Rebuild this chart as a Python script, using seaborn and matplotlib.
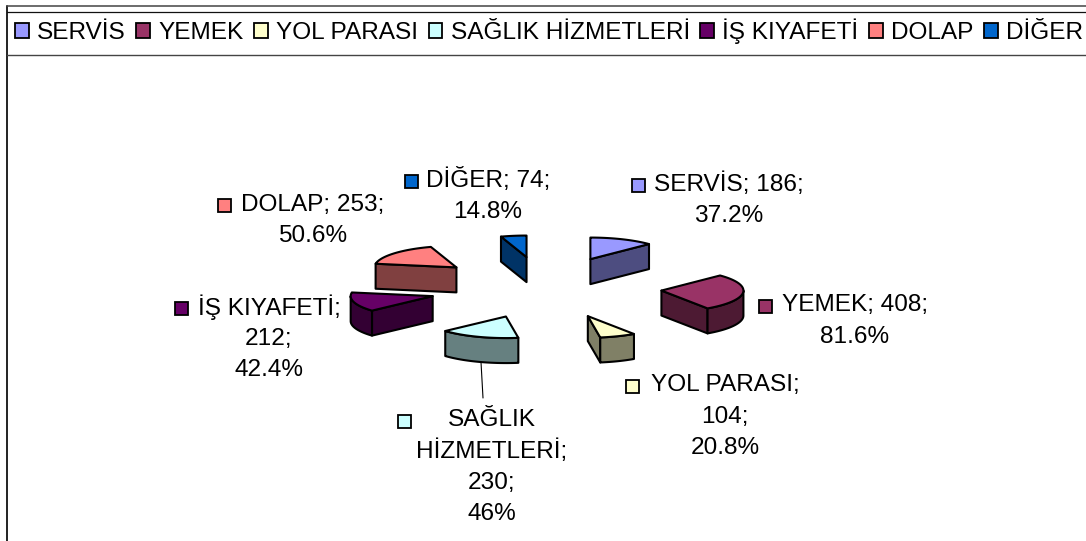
import numpy as np
import matplotlib
matplotlib.use("Agg")
import matplotlib.pyplot as plt
from matplotlib.patches import Polygon, Rectangle, Patch
import seaborn as sns

categories = ["SERVİS", "YEMEK", "YOL PARASI", "SAĞLIK HİZMETLERİ", "İŞ KIYAFETİ", "DOLAP", "DİĞER"]
values = [186, 408, 104, 230, 212, 253, 74]
percents = ["37.2%", "81.6%", "20.8%", "46%", "42.4%", "50.6%", "14.8%"]
hex_colors = ["#9999FF", "#993366", "#FFFFCC", "#CCFFFF", "#660066", "#FF8080", "#0066CC"]

# label line layout
label_lines = [
    [f"{categories[0]}; {values[0]};", percents[0]],
    [f"{categories[1]}; {values[1]};", percents[1]],
    ["YOL PARASI;", f"{values[2]};", percents[2]],
    ["SAĞLIK", "HİZMETLERİ;", f"{values[3]};", percents[3]],
    ["İŞ KIYAFETİ;", f"{values[4]};", percents[4]],
    [f"{categories[5]}; {values[5]};", percents[5]],
    [f"{categories[6]}; {values[6]};", percents[6]],
]
label_cx = [729, 855, 725, 492, 269, 313, 488]
label_y0 = [184.5, 305.5, 385.5, 420.5, 307.5, 204.5, 180.5]
swatch_x = [632, 759, 626, 398, 175, 218, 405]

sns.set_theme(style="white")
plt.rcParams["font.family"] = ["Liberation Sans", "DejaVu Sans"]
FS = 17.6
palette = sns.color_palette(hex_colors)

fig = plt.figure(figsize=(10.86, 5.41), dpi=100)
ax = fig.add_axes([0, 0, 1, 1])
ax.set_xlim(0, 1086)
ax.set_ylim(541, 0)
ax.axis("off")

# chart frame
ax.plot([6.5, 6.5], [6, 541], color="#222222", lw=1.4)
ax.plot([6.5, 1086], [6, 6], color="#444444", lw=1.1)
ax.plot([6.5, 1086], [11.5, 11.5], color="#111111", lw=0.9)
ax.plot([6.5, 1086], [54.5, 54.5], color="#444444", lw=1.0)

# projection of the exploded pie
CX, CY, R, K, EXPLODE, DEPTH = 545, 287.5, 82, 0.263, 117, 25
total = sum(values)
edges = np.concatenate([[0], np.cumsum(values)]) / total * 2 * np.pi


def project(theta, r):
    return np.array([r * np.sin(theta), -K * r * np.cos(theta)])


def side_face(points, color):
    pts = np.asarray(points)
    poly = np.vstack([pts, (pts + [0, DEPTH])[::-1]])
    ax.add_patch(Polygon(poly, closed=True, fc=color, ec="black", lw=1.5, joinstyle="round", zorder=3))


for i, color in enumerate(palette):
    a0, a1 = edges[i], edges[i + 1]
    apex = np.array([CX, CY]) + project((a0 + a1) / 2, EXPLODE)
    rim = np.array([apex + project(t, R) for t in np.linspace(a0, a1, 80)])
    dark = tuple(c * 0.5 for c in color)
    # start plane, rim, end plane: only parts whose edge runs right to left face the viewer
    if rim[0][0] < apex[0] - 1e-6:
        side_face([apex, rim[0]], dark)
    if apex[0] < rim[-1][0] - 1e-6:
        side_face([rim[-1], apex], dark)
    run = [rim[0]]
    for p, q in zip(rim[:-1], rim[1:]):
        if q[0] < p[0]:
            run.append(q)
        else:
            if len(run) > 1:
                side_face(run, dark)
            run = [q]
    if len(run) > 1:
        side_face(run, dark)
    ax.add_patch(Polygon(np.vstack([apex, rim]), closed=True, fc=color, ec="black", lw=1.5,
                         joinstyle="round", zorder=5))

# leader line
ax.plot([481, 483], [362, 398], color="black", lw=0.8, zorder=2)

# data labels
LINE = 31.2
for i, lines in enumerate(label_lines):
    for n, line in enumerate(lines):
        ax.text(label_cx[i], label_y0[i] + n * LINE, line, ha="center", va="center",
                fontsize=FS, color="black", zorder=6)
    y = label_y0[i] + 0.5
    ax.add_patch(Rectangle((swatch_x[i], y - 6.5), 13, 13, fc=palette[i], ec="black", lw=1.3, zorder=6))

# legend
handles = [Patch(fc=c, ec="black", lw=1.3) for c in palette]
leg = ax.legend(handles, categories, ncol=7, loc="center left", bbox_to_anchor=(15 / 1086, 1 - 31.5 / 541),
                bbox_transform=fig.transFigure, frameon=False, fontsize=FS, borderpad=0, borderaxespad=0,
                handlelength=0.57, handleheight=0.57, handletextpad=0.33, columnspacing=0.43,
                labelcolor="black")

fig.savefig("out.png", dpi=100, facecolor="white")
